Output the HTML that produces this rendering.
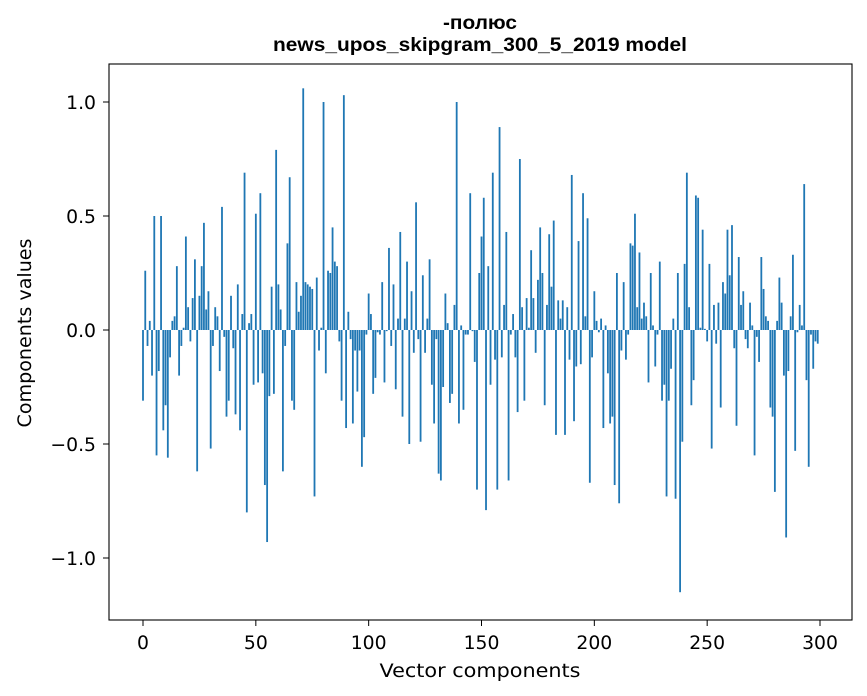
<!DOCTYPE html>
<html><head><meta charset="utf-8"><style>
body{margin:0;background:#fff;}
svg{display:block;font-family:"DejaVu Sans","Liberation Sans",sans-serif;}
</style></head><body>
<svg id="chart" width="867" height="696" viewBox="0 0 867 696" xmlns="http://www.w3.org/2000/svg">
<rect width="867" height="696" fill="#fff"/>
<text x="480" y="29" text-anchor="middle" font-size="19" font-weight="bold" font-family="Liberation Sans, sans-serif" textLength="74" lengthAdjust="spacingAndGlyphs">-полюс</text>
<text x="480" y="51" text-anchor="middle" font-size="19" font-weight="bold" font-family="Liberation Sans, sans-serif" textLength="414" lengthAdjust="spacingAndGlyphs">news_upos_skipgram_300_5_2019 model</text>
<g id="bars"></g>
<g id="axes"></g>
<rect x="109" y="64" width="743" height="556" fill="none" stroke="#000" stroke-width="1.1"/>
<text x="480" y="677" text-anchor="middle" font-size="18.8" textLength="201" lengthAdjust="spacingAndGlyphs">Vector components</text>
<text transform="translate(31,333) rotate(-90)" text-anchor="middle" font-size="18.8" textLength="189" lengthAdjust="spacingAndGlyphs">Components values</text>
</svg>
<script>
const values = [
-0.31,0.26,-0.07,0.04,-0.20,0.50,-0.55,-0.18,0.50,-0.44,
-0.33,-0.56,-0.12,0.04,0.06,0.28,-0.20,-0.07,0.01,0.41,
0.10,-0.05,0.14,0.31,-0.62,0.15,0.28,0.47,0.09,0.17,
-0.52,-0.07,0.10,0.06,-0.18,0.54,-0.03,-0.38,-0.31,0.15,
-0.08,-0.37,0.20,-0.44,0.07,0.69,-0.80,0.03,0.07,-0.24,
0.51,-0.23,0.60,-0.19,-0.68,-0.93,-0.29,0.19,-0.28,0.79,
0.20,0.09,-0.62,-0.07,0.38,0.67,-0.31,-0.35,0.21,0.08,
0.15,1.06,0.21,0.20,0.19,0.18,-0.73,0.23,-0.09,0.01,
1.00,-0.19,0.26,0.25,0.45,0.30,0.28,-0.05,-0.31,1.03,
-0.43,0.08,-0.04,-0.41,-0.09,-0.27,-0.09,-0.60,-0.47,-0.02,
0.16,0.07,-0.28,-0.21,-0.01,-0.02,0.21,-0.23,-0.005,0.36,
-0.07,0.20,-0.26,0.05,0.43,-0.38,0.05,0.30,-0.50,0.17,
-0.10,0.56,-0.04,-0.49,0.24,-0.10,0.05,0.31,-0.24,-0.41,
-0.04,-0.63,-0.66,-0.25,0.16,0.03,-0.32,-0.28,0.11,1.00,
-0.41,0.02,-0.35,-0.02,-0.02,0.60,-0.005,-0.14,-0.70,0.25,
0.41,0.58,-0.79,0.28,-0.24,0.69,-0.13,-0.70,0.89,-0.12,
0.11,0.43,-0.66,-0.02,0.07,-0.12,-0.36,0.75,0.10,-0.31,
0.14,0.01,0.35,0.14,-0.10,0.22,0.45,0.25,-0.33,0.11,
0.42,0.19,0.48,-0.46,0.13,0.05,0.13,-0.46,0.10,-0.13,
0.68,-0.40,-0.16,0.39,-0.15,0.60,0.06,0.49,-0.67,-0.12,
0.17,0.04,-0.01,0.05,-0.43,0.02,-0.19,-0.41,-0.38,-0.68,
0.25,-0.76,-0.09,0.21,-0.13,-0.02,0.38,0.37,0.51,0.10,
0.34,0.05,0.12,0.06,-0.23,0.25,0.02,-0.16,-0.02,0.30,
-0.31,-0.24,-0.73,-0.31,-0.17,0.05,-0.74,0.25,-1.15,-0.49,
0.29,0.69,0.10,-0.33,-0.22,0.59,0.58,0.01,0.44,0.005,
-0.05,0.29,-0.52,0.11,-0.06,0.12,-0.34,0.21,0.16,0.44,
0.24,0.46,-0.08,-0.42,0.32,0.11,0.17,-0.04,-0.08,0.12,
0.02,-0.55,-0.03,-0.14,0.32,0.18,0.06,0.04,-0.34,-0.38,
-0.71,0.04,0.23,0.12,-0.20,-0.91,-0.18,0.06,0.33,-0.53,
-0.01,0.11,0.02,0.64,-0.22,-0.60,-0.02,-0.17,-0.05,-0.06
];
const xTicks = [0,50,100,150,200,250,300];
const yTicks = [-1.0,-0.5,0.0,0.5,1.0];
const yTickLabels = ["\u22121.0","\u22120.5","0.0","0.5","1.0"];

const NS = "http://www.w3.org/2000/svg";
const xScale = v => 143 + v * (677/300);
const yScale = v => 330 - v * 228;
const barsG = document.getElementById('bars');
const axesG = document.getElementById('axes');
values.forEach((v, i) => {
  const r = document.createElementNS(NS, 'rect');
  const x0 = xScale(i - 0.4), x1 = xScale(i + 0.4);
  const y0 = yScale(Math.max(v, 0)), y1 = yScale(Math.min(v, 0));
  r.setAttribute('x', x0);
  r.setAttribute('width', x1 - x0);
  r.setAttribute('y', y0);
  r.setAttribute('height', Math.max(y1 - y0, 0.01));
  r.setAttribute('fill', '#1f77b4');
  
  
  barsG.appendChild(r);
});
xTicks.forEach(t => {
  const x = xScale(t);
  const l = document.createElementNS(NS, 'line');
  l.setAttribute('x1', x); l.setAttribute('x2', x);
  l.setAttribute('y1', 620); l.setAttribute('y2', 626);
  l.setAttribute('stroke', '#000');
  
  
  axesG.appendChild(l);
  const tx = document.createElementNS(NS, 'text');
  tx.setAttribute('x', x); tx.setAttribute('y', 649);
  tx.setAttribute('text-anchor', 'middle');
  tx.setAttribute('font-size', '18.8');
  
  
  tx.textContent = String(t);
  axesG.appendChild(tx);
});
yTicks.forEach((t, k) => {
  const y = yScale(t);
  const l = document.createElementNS(NS, 'line');
  l.setAttribute('x1', 103); l.setAttribute('x2', 109);
  l.setAttribute('y1', y); l.setAttribute('y2', y);
  l.setAttribute('stroke', '#000');
  
  
  axesG.appendChild(l);
  const tx = document.createElementNS(NS, 'text');
  tx.setAttribute('x', 96); tx.setAttribute('y', y + 7);
  tx.setAttribute('text-anchor', 'end');
  tx.setAttribute('font-size', '18.8');
  
  
  tx.textContent = yTickLabels[k];
  axesG.appendChild(tx);
});
</script>
</body></html>
